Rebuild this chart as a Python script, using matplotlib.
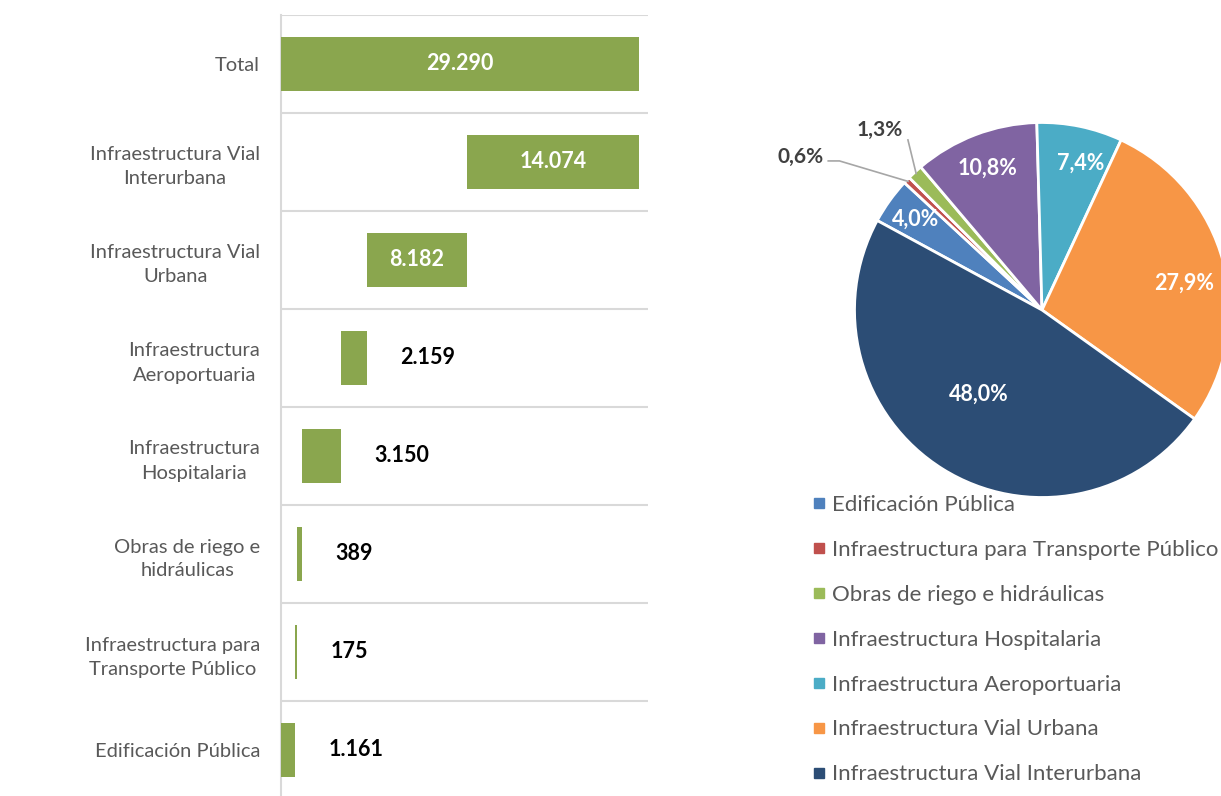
import numpy as np
import matplotlib
matplotlib.use("Agg")
import matplotlib.pyplot as plt
from matplotlib.lines import Line2D

plt.rcParams['font.family'] = ['Lato', 'DejaVu Sans']

# datos
categorias = ['Edificación Pública', 'Infraestructura para Transporte Público',
              'Obras de riego e hidráulicas', 'Infraestructura Hospitalaria',
              'Infraestructura Aeroportuaria', 'Infraestructura Vial Urbana',
              'Infraestructura Vial Interurbana']
etiquetas_barras = ['Edificación Pública', 'Infraestructura para\nTransporte Público',
                    'Obras de riego e\nhidráulicas', 'Infraestructura\nHospitalaria',
                    'Infraestructura\nAeroportuaria', 'Infraestructura Vial\nUrbana',
                    'Infraestructura Vial\nInterurbana', 'Total']
valores = [1161, 175, 389, 3150, 2159, 8182, 14074]
pcts = ['4,0%', '0,6%', '1,3%', '10,8%', '7,4%', '27,9%', '48,0%']
colores_pie = ['#4F81BD', '#C0504D', '#9BBB59', '#8064A2', '#4BACC6', '#F79646', '#2C4D75']
verde = '#8AA64E'
gris = '#595959'

def fmt(v):
    return f"{v:,}".replace(',', '.')

fig = plt.figure(figsize=(12.21, 7.96), dpi=100)
W, H = 1221, 796

# --- cascada ---
ax = fig.add_axes([281 / W, -3 / H, (648 - 281) / W, 784 / H])
acum = np.cumsum(valores)
inicio = list(acum - np.array(valores)) + [0]
largos = valores + [int(acum[-1])]
y = np.arange(len(largos))
ax.barh(y, largos, left=inicio, height=0.55, color=verde, zorder=3)
ax.set_xlim(0, 30000)
ax.set_ylim(-0.5, len(largos) - 0.5)
ax.set_xticks([])
ax.set_yticks(y, etiquetas_barras)
ax.set_yticks(np.arange(len(largos)) + 0.5, minor=True)
ax.tick_params(axis='y', which='both', length=0, pad=15, labelsize=14.5, labelcolor=gris)
for lbl in ax.get_yticklabels():
    lbl.set_multialignment('center')
    lbl.set_linespacing(1.5)
ax.grid(axis='y', which='minor', color='#D9D9D9', linewidth=1.5)
for s in ['top', 'right', 'bottom']:
    ax.spines[s].set_visible(False)
ax.spines['left'].set_color('#D9D9D9')
ax.spines['left'].set_linewidth(1.5)

for yi, l, w in zip(y, inicio, largos):
    if w > 5000:
        ax.text(l + w / 2, yi, fmt(w), ha='center', va='center', color='white',
                fontsize=15.5, fontweight='bold', zorder=4)
    else:
        ax.annotate(fmt(w), (l + w, yi), xytext=(24, 0), textcoords='offset points',
                    ha='left', va='center', color='black', fontsize=15.5, fontweight='bold')

# --- torta ---
cx, cy, r = 1042, 310, 187.5
pax = fig.add_axes([(cx - r) / W, (H - cy - r) / H, 2 * r / W, 2 * r / H])
wedges, _ = pax.pie(valores, colors=colores_pie, startangle=151.5, counterclock=False,
                    wedgeprops=dict(edgecolor='white', linewidth=2))
pax.set_xlim(-1, 1)
pax.set_ylim(-1, 1)
pax.set_aspect('equal')
pax.axis('off')

# (radio, desplazamiento angular) de cada etiqueta interior
posiciones = [(0.83, 0), None, None, (0.81, 0), (0.81, -3), (0.77, -4), (0.56, -5)]
for wdg, p, pos in zip(wedges, pcts, posiciones):
    if pos is None:
        continue
    rr, da = pos
    ang = np.deg2rad((wdg.theta1 + wdg.theta2) / 2 + da)
    pax.text(rr * np.cos(ang), rr * np.sin(ang), p, ha='center', va='center',
             color='white', fontsize=15.5, fontweight='bold')

# etiquetas externas con lineas guia
for idx, txt_pos, quiebre in [(1, (-1.29, 0.816), (-1.08, 0.795)),
                              (2, (-0.864, 0.96), (-0.715, 0.907))]:
    wdg = wedges[idx]
    ang = np.deg2rad((wdg.theta1 + wdg.theta2) / 2)
    px, py = 0.99 * np.cos(ang), 0.99 * np.sin(ang)
    if idx == 1:
        xs = [txt_pos[0] + 0.15, quiebre[0], px]
        ys = [quiebre[1], quiebre[1], py]
    else:
        xs = [quiebre[0], px]
        ys = [quiebre[1], py]
    pax.add_line(Line2D(xs, ys, color='#A6A6A6', linewidth=1.2, clip_on=False))
    pax.text(txt_pos[0], txt_pos[1], pcts[idx], ha='center', va='center',
             color='#404040', fontsize=15, fontweight='bold', clip_on=False)

# leyenda
handles = [Line2D([], [], marker='s', linestyle='none', markersize=7,
                  markerfacecolor=c, markeredgecolor=c) for c in colores_pie]
fig.legend(handles, categorias, loc='upper left', bbox_to_anchor=(813 / W, 1 - 495 / H),
           frameon=False, fontsize=16, labelcolor=gris, handlelength=0.5,
           handletextpad=0.35, labelspacing=1.12, borderpad=0, borderaxespad=0)

fig.savefig('out.png', dpi=100)
